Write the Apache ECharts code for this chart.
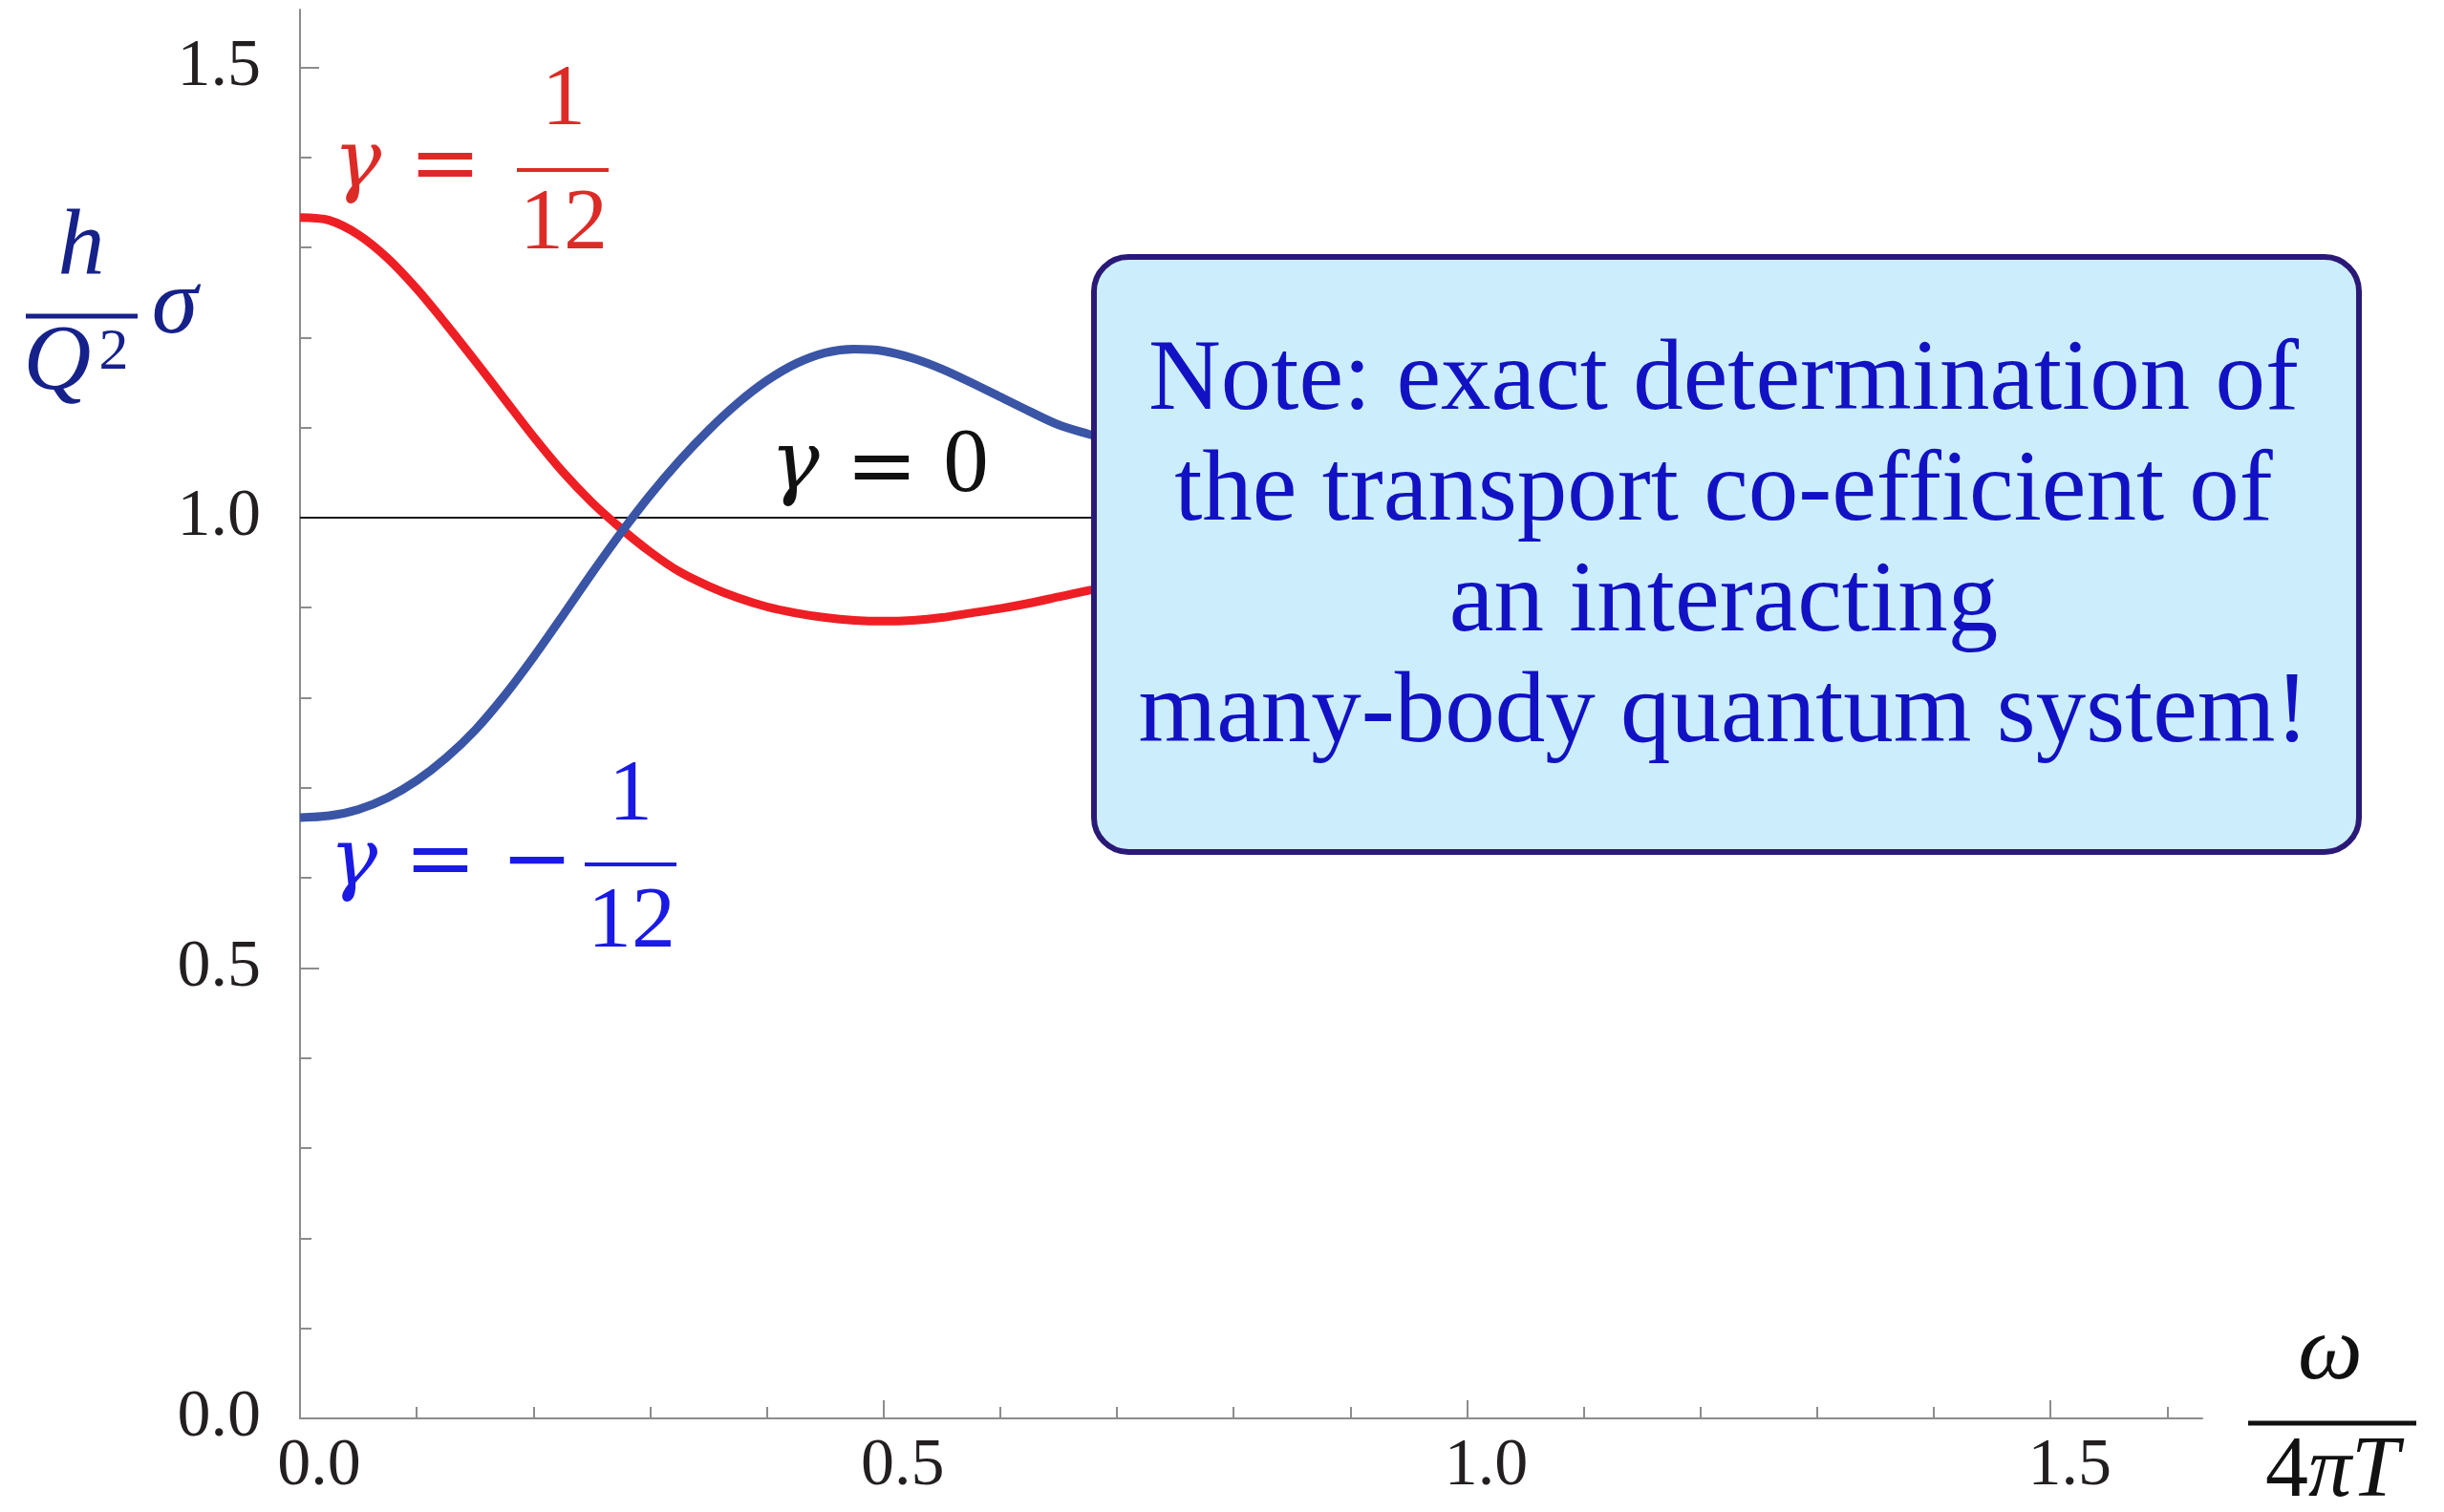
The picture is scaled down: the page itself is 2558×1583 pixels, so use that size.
<!DOCTYPE html>
<html>
<head>
<meta charset="utf-8">
<title>Optical conductivity</title>
<script src="https://cdn.jsdelivr.net/npm/echarts@6/dist/echarts.min.js"></script>
<style>
  html, body { margin: 0; padding: 0; background: #ffffff; }
  #chart { width: 2558px; height: 1583px; }
</style>
</head>
<body>
<div id="chart"></div>
<script>
// Frequency ω / 4πT
const omega = [0, 0.025, 0.05, 0.075, 0.1, 0.125, 0.15, 0.175, 0.2, 0.225, 0.25, 0.275, 0.3,
  0.325, 0.35, 0.375, 0.4, 0.425, 0.45, 0.475, 0.5, 0.525, 0.55, 0.575, 0.6, 0.625, 0.65, 0.675, 0.7];

// (h / Q²) σ for γ = 1/12
const sigmaPlus = [1.333, 1.330, 1.314, 1.288, 1.254, 1.215, 1.174, 1.132, 1.090, 1.051, 1.017, 0.988, 0.962,
  0.940, 0.924, 0.911, 0.901, 0.894, 0.889, 0.886, 0.885, 0.886, 0.889, 0.894, 0.899, 0.905, 0.912, 0.919, 0.925];

// (h / Q²) σ for γ = −1/12
const sigmaMinus = [0.667, 0.669, 0.676, 0.689, 0.708, 0.733, 0.764, 0.802, 0.845, 0.891, 0.938, 0.983, 1.025,
  1.063, 1.097, 1.127, 1.152, 1.171, 1.183, 1.187, 1.185, 1.177, 1.165, 1.150, 1.134, 1.118, 1.103, 1.093, 1.084];

// γ = 0: constant conductivity
const gammaZeroOmega = [0, 1.63];
const gammaZeroSigma = [1, 1];

// Axis ticks
const xMajorTicks = [0, 0.5, 1.0, 1.5];
const xMinorTicks = [0.1, 0.2, 0.3, 0.4, 0.6, 0.7, 0.8, 0.9, 1.1, 1.2, 1.3, 1.4, 1.6];
const yMajorTicks = [0, 0.5, 1.0, 1.5];
const yMinorTicks = [0.1, 0.2, 0.3, 0.4, 0.6, 0.7, 0.8, 0.9, 1.1, 1.2, 1.3, 1.4];

const noteLines = [
  'Note: exact determination of',
  'the transport co-efficient of',
  'an interacting',
  'many-body quantum system!'
];

const SERIF = '"Liberation Serif", "Times New Roman", serif';
const SYMBOL_SERIF = '"DejaVu Serif", serif';
const AXIS_GRAY = '#8c8c8c';
const RED = '#ee1f24';
const BLUE = '#3a55a6';
const RED_TEXT = '#dc2b27';
const BLUE_TEXT = '#1a1ae4';
const NAVY = '#16218a';

const pairs = (xs, ys) => xs.map((x, i) => [x, ys[i]]);

// Text placed by its horizontal centre and its alphabetic baseline
function mathText(str, cx, baseline, size, color, italic, family) {
  return {
    type: 'text', x: cx, y: baseline - 0.3375 * size, z: 110,
    style: {
      text: str,
      font: (italic ? 'italic ' : '') + size + 'px ' + (family || SERIF),
      fill: color,
      align: 'center', verticalAlign: 'middle',
      textAlign: 'center', textVerticalAlign: 'middle'
    }
  };
}
// Relation / operator symbol centred on the math axis
function mathSymbol(str, cx, axisY, size, color) {
  return {
    type: 'text', x: cx, y: axisY, z: 110,
    style: {
      text: str,
      font: size + 'px ' + SYMBOL_SERIF,
      fill: color,
      align: 'center', verticalAlign: 'middle',
      textAlign: 'center', textVerticalAlign: 'middle'
    }
  };
}
function fracBar(x1, x2, y, color, w) {
  return {
    type: 'line', z: 110,
    shape: { x1: x1, y1: y, x2: x2, y2: y },
    style: { stroke: color, lineWidth: w }
  };
}

const chart = echarts.init(document.getElementById('chart'), null, { renderer: 'canvas' });

const xBase = { type: 'value', min: 0, max: 1.63, gridIndex: 0, position: 'bottom', splitLine: { show: false } };
const yBase = { type: 'value', min: 0, max: 1.564, gridIndex: 0, position: 'left', splitLine: { show: false } };

const option = {
  backgroundColor: '#ffffff',
  animation: false,
  grid: { left: 314, top: 10, width: 1991, height: 1475, containLabel: false, outerBoundsMode: 'none' },
  xAxis: [
    Object.assign({}, xBase, {
      axisLine: { show: true, lineStyle: { color: AXIS_GRAY, width: 2 } },
      axisTick: { show: true, inside: true, length: 19, customValues: xMajorTicks, lineStyle: { color: AXIS_GRAY, width: 2 } },
      axisLabel: {
        show: true, customValues: xMajorTicks, formatter: v => Number(v).toFixed(1),
        fontFamily: SERIF, fontSize: 70, color: '#231f20', margin: 16, padding: [0, 0, 0, 40]
      }
    }),
    Object.assign({}, xBase, {
      axisLine: { show: false },
      axisTick: { show: true, inside: true, length: 12, customValues: xMinorTicks, lineStyle: { color: AXIS_GRAY, width: 2 } },
      axisLabel: { show: false }
    })
  ],
  yAxis: [
    Object.assign({}, yBase, {
      axisLine: { show: true, lineStyle: { color: AXIS_GRAY, width: 2 } },
      axisTick: { show: true, inside: true, length: 20, customValues: yMajorTicks, lineStyle: { color: AXIS_GRAY, width: 2 } },
      axisLabel: {
        show: true, customValues: yMajorTicks, formatter: v => Number(v).toFixed(1),
        fontFamily: SERIF, fontSize: 70, color: '#231f20', margin: 41, padding: [0, 0, 14, 0]
      }
    }),
    Object.assign({}, yBase, {
      axisLine: { show: false },
      axisTick: { show: true, inside: true, length: 12, customValues: yMinorTicks, lineStyle: { color: AXIS_GRAY, width: 2 } },
      axisLabel: { show: false }
    })
  ],
  series: [
    {
      name: 'γ = 0', type: 'line', xAxisIndex: 0, yAxisIndex: 0,
      data: pairs(gammaZeroOmega, gammaZeroSigma),
      showSymbol: false, symbol: 'none', z: 2,
      lineStyle: { color: '#1a1a1a', width: 2 }
    },
    {
      name: 'γ = 1/12', type: 'line', xAxisIndex: 0, yAxisIndex: 0,
      data: pairs(omega, sigmaPlus),
      showSymbol: false, symbol: 'none', smooth: 0.3, z: 3,
      lineStyle: { color: RED, width: 9 }
    },
    {
      name: 'γ = −1/12', type: 'line', xAxisIndex: 0, yAxisIndex: 0,
      data: pairs(omega, sigmaMinus),
      showSymbol: false, symbol: 'none', smooth: 0.3, z: 4,
      lineStyle: { color: BLUE, width: 9 }
    }
  ],
  graphic: [
    // y-axis title: (h / Q²) σ
    mathText('h', 85, 293, 98, NAVY, true),
    fracBar(27, 144, 331, NAVY, 5),
    mathText('Q', 60, 414, 98, NAVY, true),
    mathText('2', 119, 391, 62, NAVY, false),
    mathText('σ', 183, 355, 98, NAVY, true),

    // x-axis title: ω / 4πT
    mathText('ω', 2439, 1450, 96, '#111111', true),
    fracBar(2353, 2529, 1490, '#111111', 5),
    {
      type: 'text', x: 2441, y: 1573 - 0.3375 * 90, z: 110,
      style: {
        text: '{u|4}{i|πT}',
        align: 'center', verticalAlign: 'middle', textAlign: 'center', textVerticalAlign: 'middle',
        fill: '#111111',
        rich: {
          u: { font: '90px ' + SERIF, fill: '#111111' },
          i: { font: 'italic 90px ' + SERIF, fill: '#111111' }
        }
      }
    },

    // γ = 1/12
    mathText('γ', 374, 202, 84, RED_TEXT, true, SYMBOL_SERIF),
    mathSymbol('=', 466, 178, 90, RED_TEXT),
    mathText('1', 590, 137, 92, RED_TEXT, false),
    fracBar(541, 637, 178, RED_TEXT, 4),
    mathText('12', 590, 267, 92, RED_TEXT, false),

    // γ = −1/12
    mathText('γ', 370, 933, 84, BLUE_TEXT, true, SYMBOL_SERIF),
    mathSymbol('=', 461, 906, 90, BLUE_TEXT),
    mathSymbol('−', 562, 906, 90, BLUE_TEXT),
    mathText('1', 660, 865, 92, BLUE_TEXT, false),
    fracBar(612, 708, 905, BLUE_TEXT, 4),
    mathText('12', 661, 998, 92, BLUE_TEXT, false),

    // γ = 0
    mathText('γ', 832, 519, 86, '#111111', true, SYMBOL_SERIF),
    mathSymbol('=', 923, 495, 90, '#111111'),
    mathText('0', 1011, 521, 95, '#111111', false),

    // Note panel
    {
      type: 'rect', z: 120,
      shape: { x: 1145, y: 269, width: 1324, height: 623, r: 36 },
      style: { fill: '#cceefc', stroke: '#2b1977', lineWidth: 6 }
    },
    {
      type: 'text', x: 1804, y: 574, z: 121,
      style: {
        text: noteLines.join('\n'),
        font: '105px ' + SERIF,
        lineHeight: 116,
        fill: '#1212c4',
        align: 'center', verticalAlign: 'middle',
        textAlign: 'center', textVerticalAlign: 'middle'
      }
    }
  ]
};

chart.setOption(option);
</script>
</body>
</html>
